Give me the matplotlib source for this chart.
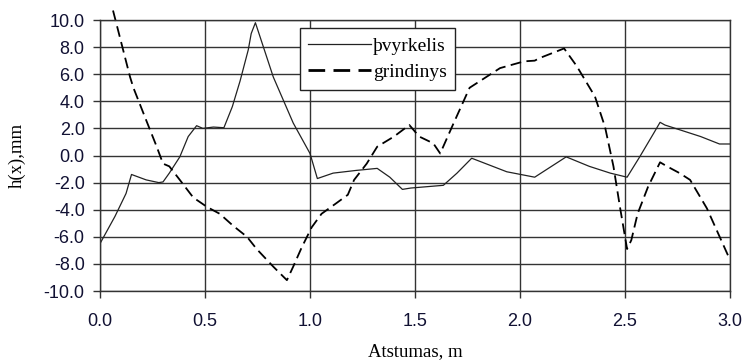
import numpy as np
import matplotlib
matplotlib.use('Agg')
import matplotlib.pyplot as plt

# þvyrkelis (solid)
x_pv = [0.0, 0.071, 0.124, 0.15, 0.22, 0.28, 0.30, 0.33, 0.38, 0.42, 0.46, 0.49, 0.54, 0.59,
        0.63, 0.667, 0.706, 0.72, 0.74, 0.825, 0.92, 1.0, 1.035, 1.11, 1.22, 1.32, 1.38,
        1.44, 1.48, 1.635, 1.70, 1.77, 1.937, 2.07, 2.22, 2.33, 2.43, 2.51, 2.57, 2.635,
        2.667, 2.69, 2.76, 2.86, 2.95, 3.0]
y_pv = [-6.5, -4.5, -2.8, -1.4, -1.8, -2.0, -1.95, -1.3, -0.1, 1.4, 2.2, 2.0, 2.1, 2.05,
        3.6, 5.5, 7.8, 9.0, 9.8, 5.8, 2.4, 0.15, -1.7, -1.3, -1.1, -0.95, -1.6,
        -2.5, -2.4, -2.2, -1.3, -0.2, -1.2, -1.6, -0.1, -0.8, -1.3, -1.6, -0.1, 1.6,
        2.45, 2.25, 1.9, 1.4, 0.85, 0.85]

# grindinys (dashed)
x_gr = [0.062, 0.143, 0.159, 0.22, 0.27, 0.30, 0.33, 0.38, 0.444, 0.51, 0.57, 0.635, 0.70,
        0.746, 0.825, 0.89, 0.92, 0.96, 1.008, 1.055, 1.127, 1.18, 1.21, 1.27, 1.32, 1.40,
        1.473, 1.52, 1.587, 1.62, 1.68, 1.76, 1.84, 1.905, 2.02, 2.07, 2.095, 2.21, 2.27,
        2.357, 2.405, 2.445, 2.476, 2.51, 2.53, 2.56, 2.61, 2.667, 2.70, 2.76, 2.81, 2.89, 3.0]
y_gr = [10.7, 5.8, 5.0, 2.6, 0.65, -0.6, -0.8, -1.8, -3.1, -3.8, -4.3, -5.2, -6.0,
        -6.9, -8.2, -9.2, -8.2, -6.8, -5.3, -4.3, -3.5, -2.9, -1.8, -0.6, 0.65, 1.4,
        2.25, 1.4, 0.9, 0.15, 2.25, 5.0, 5.8, 6.45, 6.95, 7.0, 7.2, 7.9, 6.6,
        4.35, 2.1, -0.8, -3.8, -6.9, -6.25, -4.3, -2.3, -0.5, -0.8, -1.3, -1.8, -3.9, -7.7]

xticks = np.arange(0, 3.01, 0.5)
yticks = np.arange(-10, 10.01, 2)

fig = plt.figure(figsize=(7.43, 3.63), dpi=100)
ax = fig.add_axes([0.1346, 0.1983, 0.8479, 0.7466])

ax.plot(x_pv, y_pv, color='#222222', lw=0.9, label='þvyrkelis')
ax.plot(x_gr, y_gr, color='black', lw=1.3, dashes=(6, 3), label='grindinys', clip_on=False)

ax.set_xlim(0, 3)
ax.set_ylim(-10, 10)
ax.set_xticks(xticks)
ax.set_yticks(yticks)
ax.set_xticklabels([f'{v:.1f}' for v in xticks])
ax.set_yticklabels([f'{v:.1f}' for v in yticks])
ax.grid(True, color='#333333', lw=1.0)
ax.set_axisbelow(True)
for s in ax.spines.values():
    s.set_color('#333333')
    s.set_linewidth(1.0)
ax.tick_params(direction='out', length=5, width=1, color='#333333', labelsize=13,
               labelcolor='#111133')
for lab in ax.get_xticklabels() + ax.get_yticklabels():
    lab.set_family('Liberation Sans')
ax.tick_params(axis='x', pad=11)
ax.tick_params(axis='y', pad=6)

ax.set_ylabel('h(x),mm', family='Liberation Serif', fontsize=13.5, labelpad=13)
ax.set_xlabel('Atstumas, m', family='Liberation Serif', fontsize=13.5, labelpad=9)

leg = ax.legend(loc='upper left', bbox_to_anchor=(0.317, 0.969), handlelength=3.2,
                handletextpad=0.1, borderpad=0.45, labelspacing=0.45, fancybox=False,
                framealpha=1, edgecolor='#222222', borderaxespad=0,
                prop={'family': 'Liberation Serif', 'size': 14})
leg.get_frame().set_linewidth(1.0)
leg.legend_handles[1].set_linewidth(2.0)

fig.savefig('out.png', dpi=100)
